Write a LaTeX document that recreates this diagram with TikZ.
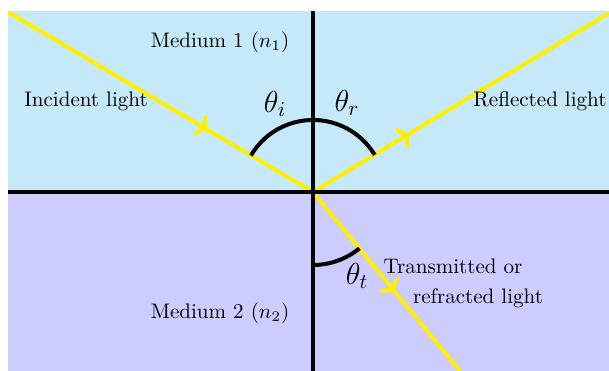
\documentclass[tikz,border=0pt]{standalone}
\usetikzlibrary{decorations.markings,arrows.meta}
\definecolor{medone}{RGB}{197,233,248}
\definecolor{medtwo}{RGB}{204,204,255}
\definecolor{ray}{RGB}{255,240,0}
\begin{document}
\begin{tikzpicture}[x=0.475pt,y=0.475pt,
  axis/.style={line width=1.9pt,black},
  raypath/.style={line width=1.9pt,ray},
  anglearc/.style={line width=1.9pt,black},
  midarrow/.style={postaction={decorate},decoration={markings,
    mark=at position #1 with {\arrow[ray]{Classical TikZ Rightarrow[width=11pt,length=5pt,line width=1.9pt]}}}},
  lbl/.style={inner sep=0pt,font=\normalsize},
  ang/.style={inner sep=0pt,font=\Large}]
\useasboundingbox (0,0) rectangle (609,371);
\fill[medone] (8,179) rectangle (609,360);
\fill[medtwo] (8,0) rectangle (609,179);
\coordinate (O) at (313,179);
\coordinate (I) at (8,359);
\coordinate (R) at (609,358);
\coordinate (T) at (460,0);
\coordinate (L) at (8,179);
\coordinate (Rt) at (609,179);
\coordinate (Up) at (313,360);
\coordinate (Dn) at (313,0);
\begin{scope}
\clip (8,0) rectangle (609,360);
\draw[raypath,midarrow=0.655] (I) -- (O);
\draw[raypath,midarrow=0.327] (O) -- (R);
\draw[raypath,midarrow=0.56] (O) -- (T);
\end{scope}
\draw[axis] (L) -- (Rt);
\draw[axis] (Up) -- (Dn);
\draw[anglearc] ([shift={(149.5:72)}]O) arc[start angle=149.5,end angle=31,radius=34.2pt];
\draw[anglearc] ([shift={(270:73)}]O) arc[start angle=270,end angle=309.4,radius=34.7pt];
\node[lbl] (m1) at (220,329) {Medium 1 ($n_1$)};
\node[lbl] (inc) at (86,270) {Incident light};
\node[lbl] (refl) at (540,270) {Reflected light};
\node[ang] (ti) at (275,267) {$\theta_i$};
\node[ang] (tr) at (347,268) {$\theta_r$};
\node[ang] (tt) at (357,95) {$\theta_t$};
\node[lbl] (tr1) at (453,105) {Transmitted or};
\node[lbl] (tr2) at (478,73) {refracted light};
\node[lbl] (m2) at (220,58) {Medium 2 ($n_2$)};
\end{tikzpicture}
\end{document}
